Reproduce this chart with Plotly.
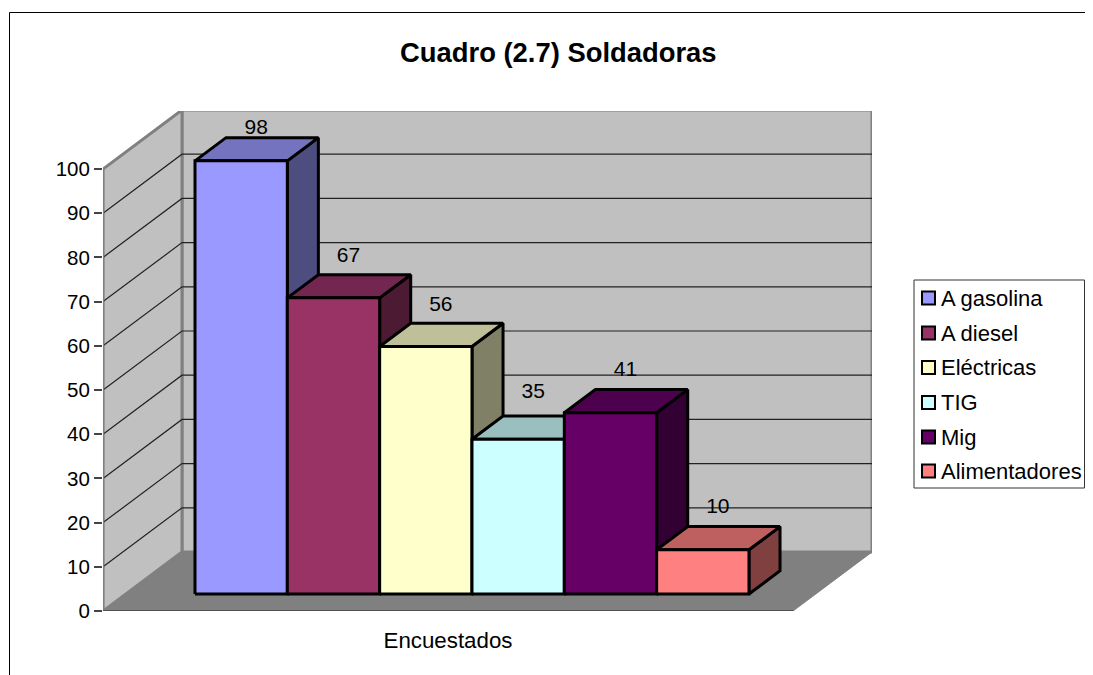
import plotly.graph_objects as go

# ---- data ----
series_names = ["A gasolina", "A diesel", "Eléctricas", "TIG", "Mig", "Alimentadores"]
series_values = [98, 67, 56, 35, 41, 10]
series_colors = ["#9999FF", "#993366", "#FFFFCC", "#CCFFFF", "#660066", "#FF8080"]
top_colors = ["#7373BF", "#732650", "#BFBF99", "#99BFBF", "#4D004D", "#BF6060"]
side_colors = ["#4D4D80", "#4D1A33", "#808066", "#668080", "#330033", "#804040"]
category_label = "Encuestados"
y_ticks = list(range(0, 101, 10))
title_text = "Cuadro (2.7) Soldadoras"

# ---- layout in page pixels; the page body adds an 8 px margin ----
W, H = 1093, 675
BODY = 8
FIG_W, FIG_H = W - BODY, H - BODY
PL, PR, PT, PB = 103, 872, 111, 611     # plot box
PX_PER_VALUE = 4.42
PX_PER_BAR = 92.33
FONT = "Liberation Sans, Arial, sans-serif"
TXT = 22

y_top = (PB - PT) / PX_PER_VALUE
x_top = (PR - PL) / PX_PER_BAR
DEPTH_X = 79 / PX_PER_BAR
DEPTH_Y = 59 / PX_PER_VALUE
FLOOR_LEN = 690 / PX_PER_BAR
BAR_START = 0.75
D0, D1 = 0.288, 0.681
label_nudge_px = [9, 18, 18, 23, 19, 19]


def proj(x, value, depth):
    return x + depth * DEPTH_X, value + depth * DEPTH_Y


def poly(points, fill, line, width, name=None):
    xs, ys = zip(*(points + points[:1]))
    return go.Scatter(x=xs, y=ys, mode="lines", fill="toself", fillcolor=fill,
                      line=dict(color=line, width=width), showlegend=False,
                      name=name or "", hoverinfo="skip" if name is None else "name")


def seg(points, color, width):
    xs, ys = zip(*points)
    return go.Scatter(x=xs, y=ys, mode="lines", line=dict(color=color, width=width),
                      showlegend=False, hoverinfo="skip", cliponaxis=False)


fig = go.Figure()

# walls and floor
fig.add_trace(poly([proj(0, 0, 1), proj(FLOOR_LEN, 0, 1), proj(FLOOR_LEN, 100, 1), proj(0, 100, 1)],
                   "#C0C0C0", "#808080", 3))
fig.add_trace(poly([proj(0, 0, 0), proj(0, 0, 1), proj(0, 100, 1), proj(0, 100, 0)],
                   "#C0C0C0", "#808080", 3))
fig.add_trace(poly([proj(0, 0, 0), proj(FLOOR_LEN, 0, 0), proj(FLOOR_LEN, 0, 1), proj(0, 0, 1)],
                   "#808080", "#808080", 1))

# gridlines
for v in y_ticks[1:-1]:
    fig.add_trace(seg([proj(0, v, 0), proj(0, v, 1), proj(FLOOR_LEN, v, 1)], "#222222", 1.2))

# axes lines and end ticks
fig.add_trace(seg([proj(0, 100, 0), proj(0, -8 / PX_PER_VALUE, 0)], "#808080", 2.5))
fig.add_trace(seg([proj(0, 0, 0), proj(FLOOR_LEN, 0, 0), proj(FLOOR_LEN, -8 / PX_PER_VALUE, 0)], "#222222", 1.2))

# bars
for i, (name, val) in enumerate(zip(series_names, series_values)):
    x0, x1 = BAR_START + i, BAR_START + i + 1
    fig.add_trace(poly([proj(x1, 0, D0), proj(x1, 0, D1), proj(x1, val, D1), proj(x1, val, D0)],
                       side_colors[i], "#000000", 3))
    fig.add_trace(poly([proj(x0, val, D0), proj(x1, val, D0), proj(x1, val, D1), proj(x0, val, D1)],
                       top_colors[i], "#000000", 3))
    fig.add_trace(poly([proj(x0, 0, D0), proj(x1, 0, D0), proj(x1, val, D0), proj(x0, val, D0)],
                       series_colors[i], "#000000", 3, name=f"{name}: {val}"))

# value labels
lx, ly = [], []
for i, val in enumerate(series_values):
    px, py = proj(BAR_START + i + 0.5, val, D1)
    lx.append(px - 16 / PX_PER_BAR)
    ly.append(py + label_nudge_px[i] / PX_PER_VALUE)
fig.add_trace(go.Scatter(x=lx, y=ly, mode="text", text=[str(v) for v in series_values],
                         textposition="middle center", textfont=dict(family=FONT, size=21, color="#000000"),
                         showlegend=False, hoverinfo="skip", cliponaxis=False))


def pxx(p):
    return (p - PL) / (PR - PL)


def pxy(p):
    return (PB - p) / (PB - PT)


shapes = [
    dict(type="line", xref="paper", yref="paper", x0=pxx(9.5), x1=pxx(W), y0=pxy(12.5), y1=pxy(12.5),
         line=dict(color="#000000", width=1)),
    dict(type="line", xref="paper", yref="paper", x0=pxx(9.5), x1=pxx(9.5), y0=pxy(12.5), y1=pxy(H),
         line=dict(color="#000000", width=1)),
    dict(type="rect", xref="paper", yref="paper", x0=pxx(914), x1=pxx(1084.5), y0=pxy(280), y1=pxy(488),
         line=dict(color="#333333", width=1), fillcolor="#FFFFFF"),
]
annotations = [dict(text=f"<b>{title_text}</b>", xref="paper", yref="paper", x=pxx(558), y=pxy(53),
                    xanchor="center", yanchor="middle", showarrow=False,
                    font=dict(family=FONT, size=27.4, color="#000000"))]
row_y = [298, 333, 367.5, 402.5, 437, 471]
for name, col, ry in zip(series_names, series_colors, row_y):
    shapes.append(dict(type="rect", xref="paper", yref="paper", x0=pxx(922), x1=pxx(935),
                       y0=pxy(ry - 6.5), y1=pxy(ry + 6.5), fillcolor=col,
                       line=dict(color="#000000", width=2)))
    annotations.append(dict(text=name, xref="paper", yref="paper", x=pxx(939), y=pxy(ry),
                            xanchor="left", yanchor="middle", showarrow=False, xshift=0,
                            font=dict(family=FONT, size=TXT, color="#000000")))

fig.update_layout(
    width=FIG_W, height=FIG_H,
    margin=dict(l=PL - BODY, r=BODY + FIG_W - PR, t=PT - BODY, b=BODY + FIG_H - PB, pad=0),
    paper_bgcolor="#FFFFFF", plot_bgcolor="#FFFFFF", showlegend=False,
    shapes=shapes, annotations=annotations,
    font=dict(family=FONT, size=TXT, color="#000000"),
    xaxis=dict(range=[0, x_top], showgrid=False, zeroline=False, showline=False,
               tickmode="array", tickvals=[(448 - PL) / PX_PER_BAR], ticktext=[category_label],
               ticks="outside", ticklen=9, tickcolor="rgba(0,0,0,0)", tickfont=dict(size=22.3)),
    yaxis=dict(range=[0, y_top], showgrid=False, zeroline=False, showline=False,
               tickmode="array", tickvals=y_ticks, ticktext=[str(v) for v in y_ticks],
               ticks="outside", ticklen=8, tickwidth=1.5, tickcolor="#444444",
               tickfont=dict(size=20.5)),
)
fig.write_html("out.html", default_width=f"{FIG_W}px", default_height=f"{FIG_H}px")
